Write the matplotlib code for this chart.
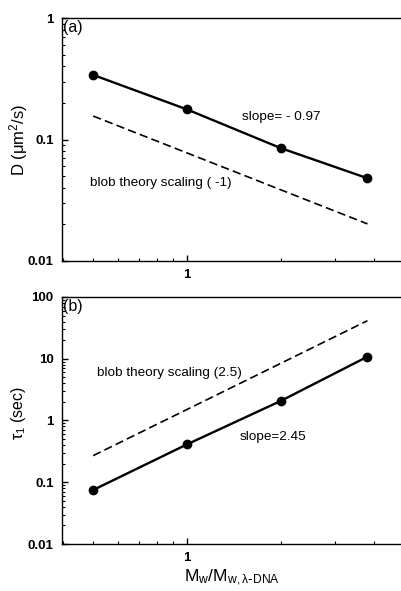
import matplotlib
matplotlib.use("Agg")
import matplotlib.pyplot as plt
from matplotlib.ticker import LogLocator, FixedLocator, NullFormatter, FixedFormatter

plt.rcParams['font.family'] = ['Liberation Sans', 'DejaVu Sans']

# data
mw = [0.5, 1.0, 2.0, 3.8]
D = [0.34, 0.177, 0.085, 0.048]
tau = [0.075, 0.41, 2.07, 10.8]
blob_x = [0.5, 3.8]
blob_D = [0.156, 0.0202]
blob_tau = [0.27, 41.3]

fig = plt.figure(figsize=(4.01, 5.91), dpi=100)
ax1 = fig.add_axes([0.1546, 0.5584, 0.8454, 0.4111])
ax2 = fig.add_axes([0.1546, 0.0795, 0.8454, 0.4180])

xlim = (0.397, 4.87)

def style(ax, ylim, yticks, ylabels):
    ax.set_xscale('log')
    ax.set_yscale('log')
    ax.set_xlim(*xlim)
    ax.set_ylim(*ylim)
    ax.spines['right'].set_visible(False)
    for s in ['left', 'bottom', 'top']:
        ax.spines[s].set_linewidth(1.0)
    ax.xaxis.set_major_locator(FixedLocator([1]))
    ax.xaxis.set_major_formatter(FixedFormatter(['1']))
    ax.xaxis.set_minor_locator(LogLocator(base=10, subs=[2, 3, 4, 5, 6, 7, 8, 9]))
    ax.xaxis.set_minor_formatter(NullFormatter())
    ax.yaxis.set_major_locator(FixedLocator(yticks))
    ax.yaxis.set_major_formatter(FixedFormatter(ylabels))
    ax.yaxis.set_minor_locator(LogLocator(base=10, subs=[2, 3, 4, 5, 6, 7, 8, 9]))
    ax.yaxis.set_minor_formatter(NullFormatter())
    ax.tick_params(which='both', direction='in', top=False, right=False)
    ax.tick_params(which='major', length=4, width=1, labelsize=9.5, pad=6)
    ax.tick_params(which='minor', length=2.5, width=0.8)
    for lab in ax.get_xticklabels() + ax.get_yticklabels():
        lab.set_fontweight('bold')

style(ax1, (0.01, 1), [0.01, 0.1, 1], ['0.01', '0.1', '1'])
style(ax2, (0.01, 100), [0.01, 0.1, 1, 10, 100], ['0.01', '0.1', '1', '10', '100'])

ax1.plot(mw, D, '-o', color='black', lw=1.7, ms=6)
ax1.plot(blob_x, blob_D, '--', color='black', lw=1.2, dashes=(5, 2.5))
ax2.plot(mw, tau, '-o', color='black', lw=1.7, ms=6)
ax2.plot(blob_x, blob_tau, '--', color='black', lw=1.2, dashes=(5, 2.5))

ax1.text(0.004, 0.99, '(a)', transform=ax1.transAxes, fontsize=11.5, va='top', ha='left')
ax2.text(0.004, 0.99, '(b)', transform=ax2.transAxes, fontsize=11.5, va='top', ha='left')

ax1.text(1.50, 0.153, 'slope= - 0.97', fontsize=9.7, ha='left', va='center')
ax1.text(0.489, 0.044, 'blob theory scaling ( -1)', fontsize=9.7, ha='left', va='center')
ax2.text(0.515, 5.9, 'blob theory scaling (2.5)', fontsize=9.7, ha='left', va='center')
ax2.text(1.48, 0.54, 'slope=2.45', fontsize=9.7, ha='left', va='center')

ax1.set_ylabel(r'D ($\mathregular{\mu m^2/s}$)', fontsize=12, va='center')
ax2.set_ylabel(r'$\mathregular{\tau_1}$ (sec)', fontsize=11.5, va='center')
ax2.set_xlabel(r'$\mathregular{M_w/M_{w,\lambda\text{-}DNA}}$', fontsize=12.5, va='center')
ax1.yaxis.set_label_coords(-0.127, 0.5)
ax2.yaxis.set_label_coords(-0.127, 0.53)
ax2.xaxis.set_label_coords(0.5, -0.138)

fig.savefig('out.png', dpi=100)
